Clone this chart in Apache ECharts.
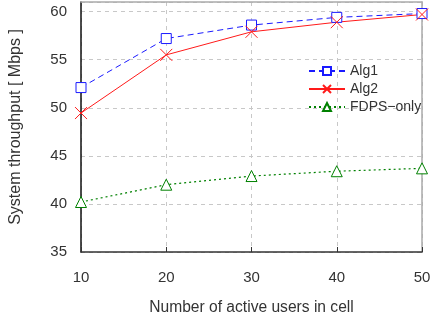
<!DOCTYPE html>
<html><head><meta charset="utf-8">
<script src="https://cdn.jsdelivr.net/npm/echarts@6/dist/echarts.min.js"></script>
<style>html,body{margin:0;padding:0;background:#fff}#c{width:430px;height:325px}</style>
</head><body><div id="c"></div>
<script>
var users = [10, 20, 30, 40, 50];
var alg1 = [52.1, 57.2, 58.6, 59.4, 59.8];
var alg2 = [49.45, 55.5, 57.9, 58.9, 59.7];
var fdps = [40.2, 42.0, 42.9, 43.4, 43.7];
var names = ['Alg1', 'Alg2', 'FDPS\u2212only'];

function pts(v){ return users.map(function(u,i){ return [u, v[i]]; }); }
var font = 'Liberation Sans, Arial, sans-serif';
var chart = echarts.init(document.getElementById('c'));
chart.setOption({
  animation: false,
  grid: { left: 81, right: 8, top: 2, bottom: 73, outerBoundsMode: 'none', containLabel: false },
  legend: {
    data: names, orient: 'vertical', left: 303, top: 59, itemGap: 4,
    itemWidth: 36, itemHeight: 10,
    textStyle: { fontFamily: font, fontSize: 14, color: '#333' }
  },
  xAxis: [{
    type: 'value', min: 10, max: 50, interval: 10,
    name: 'Number of active users in cell', nameLocation: 'middle', nameGap: 48,
    nameTextStyle: { fontFamily: font, fontSize: 15.6, color: '#333' },
    axisLine: { lineStyle: { color: '#333', width: 1.5 } },
    axisTick: { show: true, inside: true, length: 5, lineStyle: { color: '#333' } },
    axisLabel: { fontFamily: font, fontSize: 15, color: '#333', margin: 18 },
    splitLine: { show: true, lineStyle: { color: '#c8c8c8', type: [4, 4] } }
  }, {
    type: 'value', position: 'top', min: 10, max: 50,
    axisLine: { show: true, lineStyle: { color: '#aaa', width: 1.5 } },
    axisTick: { show: false }, axisLabel: { show: false }, splitLine: { show: false }
  }],
  yAxis: [{
    type: 'value', min: 35, max: 61, interval: 5,
    name: 'System throughput [ Mbps ]', nameLocation: 'middle', nameGap: 57,
    nameTextStyle: { fontFamily: font, fontSize: 16, color: '#333' },
    axisLine: { show: true, lineStyle: { color: '#111', width: 1.5 } },
    axisTick: { show: false },
    axisLabel: { fontFamily: font, fontSize: 15, color: '#333', margin: 14, showMaxLabel: false },
    splitLine: { show: true, lineStyle: { color: '#c8c8c8', type: [4, 4] } }
  }, {
    type: 'value', position: 'right', min: 35, max: 61,
    axisLine: { show: true, lineStyle: { color: '#aaa', width: 1.5 } },
    axisTick: { show: false }, axisLabel: { show: false }, splitLine: { show: false }
  }],
  series: [{
    name: names[0], type: 'line', data: pts(alg1),
    symbol: 'rect', symbolSize: 10,
    lineStyle: { color: '#1a1aff', width: 1, type: [6, 4] },
    itemStyle: { color: '#fff', borderColor: '#1a1aff', borderWidth: 1 }
  }, {
    name: names[1], type: 'line', data: pts(alg2),
    symbol: 'path://M0,0L10,10M10,0L0,10', symbolSize: 12,
    lineStyle: { color: '#ff1a1a', width: 1 },
    itemStyle: { color: 'none', borderColor: '#ff1a1a', borderWidth: 1 }
  }, {
    name: names[2], type: 'line', data: pts(fdps),
    symbol: 'triangle', symbolSize: 11,
    lineStyle: { color: '#008000', width: 1.2, type: [2, 3] },
    itemStyle: { color: '#fff', borderColor: '#008000', borderWidth: 1 }
  }]
});
</script></body></html>
